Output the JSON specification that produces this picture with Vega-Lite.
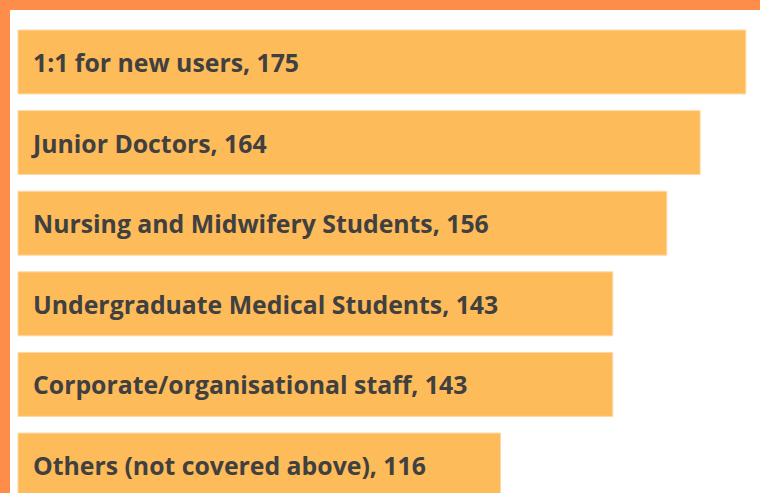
{
  "$schema": "https://vega.github.io/schema/vega-lite/v6.json",
  "width": 750,
  "height": 483,
  "autosize": {"type": "none"},
  "padding": {"left": 10, "top": 10, "right": 0, "bottom": 0},
  "background": "#FF8D4A",
  "config": {"view": {"fill": "#FFFFFF", "stroke": null}},
  "data": {
    "values": [
      {"category": "1:1 for new users", "value": 175},
      {"category": "Junior Doctors", "value": 164},
      {"category": "Nursing and Midwifery Students", "value": 156},
      {"category": "Undergraduate Medical Students", "value": 143},
      {"category": "Corporate/organisational staff", "value": 143},
      {"category": "Others (not covered above)", "value": 116}
    ]
  },
  "encoding": {
    "y": {
      "field": "category",
      "type": "nominal",
      "sort": null,
      "axis": null,
      "scale": {"range": [0, 507], "paddingInner": 0.207, "paddingOuter": 0.248}
    }
  },
  "layer": [
    {
      "mark": {"type": "bar", "color": "#FDBB59", "stroke": "#FDD9A6", "strokeWidth": 1, "clip": true},
      "encoding": {
        "x": {"field": "value", "type": "quantitative", "axis": null, "scale": {"domain": [-1.92, 178.4], "nice": false, "zero": false}},
        "x2": {"datum": 0}
      }
    },
    {
      "transform": [{"calculate": "datum.category + ', ' + datum.value", "as": "label"}],
      "mark": {"type": "text", "align": "left", "baseline": "middle", "dx": 15, "dy": 3, "font": "Open Sans", "fontWeight": "bold", "fontSize": 24.8, "color": "#404040", "clip": true},
      "encoding": {
        "x": {"datum": 0, "type": "quantitative", "scale": {"domain": [-1.92, 178.4], "nice": false, "zero": false}},
        "text": {"field": "label"}
      }
    }
  ]
}
